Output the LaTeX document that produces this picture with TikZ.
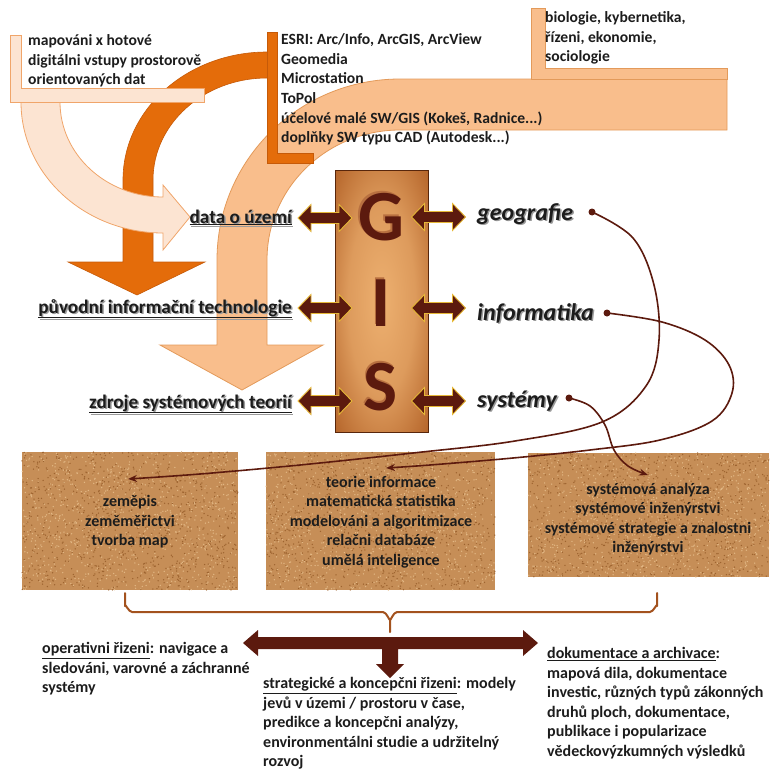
\documentclass[tikz,border=0pt]{standalone}
\usepackage{fontspec}
\setmainfont{Carlito}
\usetikzlibrary{arrows.meta}
\definecolor{paleor}{HTML}{FCE4D2}
\definecolor{paleedge}{HTML}{F0A56A}
\definecolor{darkor}{HTML}{E46C0A}
\definecolor{darkoredge}{HTML}{C65A08}
\definecolor{tanor}{HTML}{F9BE8C}
\definecolor{tanedge}{HTML}{E39A5A}
\definecolor{maroon}{HTML}{5C1A0E}
\definecolor{goldedge}{HTML}{E6B838}
\definecolor{bracketc}{HTML}{A3521E}
\definecolor{corkbase}{HTML}{C68E57}
\definecolor{corkdark}{HTML}{9E6430}
\definecolor{corklight}{HTML}{E2B784}
\definecolor{gisout}{HTML}{6E300E}
\definecolor{gismid}{HTML}{B8692E}
\definecolor{gisin}{HTML}{EDB070}
\definecolor{gishl}{HTML}{B87040}
\definecolor{txt}{HTML}{1C1C1C}
\definecolor{shadowc}{HTML}{9A9A9A}
\pgfdeclareradialshading{gisshade}{\pgfpoint{0bp}{0bp}}{color(0bp)=(gisin); color(18bp)=(gisin!70!gismid); color(34bp)=(gismid); color(50bp)=(gisout); color(75bp)=(gisout)}
\newcommand{\shadowtext}[1]{\rlap{\hspace{1.5pt}\raisebox{-1.5pt}{\color{shadowc}#1}}#1}
\newcommand{\embossed}[1]{\rlap{\hspace{-1.4pt}\raisebox{1.4pt}{\color{gishl}#1}}#1}
\newcommand{\gisdbl}[3]{%
  \draw[gisarrowpath] (#2-27,#3) coordinate (#1w) -- ++(13,-13.5) -- ++(0,8) -- ++(28,0)
    -- ++(0,-8) -- ++(13,13.5) coordinate (#1e) -- ++(-13,13.5) -- ++(0,-8) -- ++(-28,0)
    -- ++(0,8) -- cycle;}
\tikzset{
  toptext/.style={anchor=north west, align=left, inner sep=0pt, text=txt,
    font=\bfseries\fontsize{15.6}{19.6}\selectfont},
  boxtext/.style={align=center, inner sep=0pt, text=txt,
    font=\bfseries\fontsize{16}{19.5}\selectfont},
  bottext/.style={anchor=north west, align=left, inner sep=0pt, text=txt,
    font=\bfseries\fontsize{16}{19.5}\selectfont},
  midlabel/.style={anchor=base east, inner sep=0pt, text=txt,
    font=\bfseries\fontsize{19.2}{22}\selectfont},
  rightlabel/.style={anchor=base west, inner sep=0pt, text=txt,
    font=\bfseries\itshape\fontsize{24}{26}\selectfont},
  gisarrowpath/.style={draw=goldedge, line width=0.9pt, fill=maroon, line join=miter},
  gisletter/.style={inner sep=0pt, text=maroon,
    font=\bfseries\fontsize{72}{72}\selectfont},
  dot/.style={circle, fill=maroon, inner sep=0pt, minimum size=7pt},
  curve/.style={draw=maroon, line width=1.6pt, -{Stealth[length=9pt,width=7pt]}},
  corkbox/.style={fill=corkbase},
}
\begin{document}
\begin{tikzpicture}[x=1pt,y=-1pt]
\useasboundingbox (0,0) rectangle (769,771);

% ---- tan big curved arrow and its L ----
\draw[fill=tanor, draw=tanedge, line width=0.8pt]
  (727,79) -- (400,79) arc[start angle=270, end angle=180, x radius=183, y radius=181]
  -- (217,345) -- (160,345) -- (242,390) -- (323,345) -- (267,345) -- (267,260)
  arc[start angle=180, end angle=270, x radius=133, y radius=130] -- (727,130) -- cycle;
\draw[fill=tanor, draw=tanedge, line width=0.8pt]
  (531,8) -- (545,8) -- (545,68) -- (727,68) -- (727,79) -- (531,79) -- cycle;

% ---- dark orange curved arrow ----
\draw[fill=darkor, draw=darkoredge, line width=0.6pt]
  (270,52) -- (267,52) arc[start angle=270, end angle=180, x radius=144, y radius=128]
  -- (123,262) -- (68,262) -- (137,295) -- (205,262) -- (153,262) -- (153,180)
  arc[start angle=180, end angle=270, x radius=114, y radius=102] -- (270,78) -- cycle;
\draw[fill=darkor, draw=darkoredge, line width=0.6pt]
  (267,32) -- (277,32) -- (277,153) -- (313,153) -- (313,163) -- (267,163) -- cycle;

% ---- pale curved arrow and its L ----
\draw[fill=paleor, draw=paleedge, line width=0.8pt]
  (21,95) -- (21,102) arc[start angle=180, end angle=90, x radius=142, y radius=131]
  -- (163,250) -- (190,217) -- (163,185) -- (163,197)
  arc[start angle=90, end angle=180, x radius=103, y radius=95] -- (60,95);
\draw[fill=paleor, draw=paleedge, line width=0.8pt]
  (10,35) -- (21,35) -- (21,88) -- (204,88) -- (204,102) -- (10,102) -- cycle;

% ---- top texts ----
\node[toptext] (tl) at (28,34.5) {mapováni x hotové\\digitálni vstupy prostorově\\orientovaných dat};
\node[toptext] (tm) at (281,33.5) {ESRI: Arc/Info, ArcGIS, ArcView\\Geomedia\\Microstation\\ToPol\\účelové malé SW/GIS (Kokeš, Radnice...)\\doplňky SW typu CAD (Autodesk...)};
\node[toptext] (tr) at (545,11.5) {biologie, kybernetika,\\řízeni, ekonomie,\\sociologie};

% ---- GIS box ----
\path[shading=gisshade, draw=gisout!80!black, line width=0.6pt] (335,170) rectangle (428,432);
\node[gisletter] (g) at (381,216) {\embossed{G}};
\node[gisletter] (i) at (381,302) {\embossed{I}};
\node[gisletter] (s) at (381,386) {\embossed{S}};

% ---- double arrows ----
\gisdbl{la1}{325}{218}
\gisdbl{la2}{325}{308}
\gisdbl{la3}{325}{401}
\gisdbl{ra1}{438.5}{217}
\gisdbl{ra2}{438.5}{308}
\gisdbl{ra3}{438.5}{401}

% ---- middle left labels ----
\node[midlabel] (l1) at (292,223) {\shadowtext{\underline{data o území}}};
\node[midlabel] (l2) at (292,313) {\shadowtext{\underline{původní informační technologie}}};
\node[midlabel] (l3) at (292,408) {\shadowtext{\underline{zdroje systémových teorií}}};

% ---- right labels ----
\node[rightlabel] (r1) at (477,220) {\shadowtext{geografie}};
\node[rightlabel] (r2) at (477,320) {\shadowtext{informatika}};
\node[rightlabel] (r3) at (477,407) {\shadowtext{systémy}};

% ---- cork boxes ----
\fill[corkbox] (22,452) rectangle (238,590);
\fill[corkbox] (266,452) rectangle (495,590);
\fill[corkbox] (528,453) rectangle (769,577);
\pgfmathsetseed{11}
\foreach \bx/\by/\bw/\bh in {22/452/216/138, 266/452/229/138, 528/453/241/124}{
  \foreach \k in {1,...,900}{
    \pgfmathsetmacro{\rx}{\bx+rnd*\bw}
    \pgfmathsetmacro{\ry}{\by+rnd*\bh}
    \fill[corkdark] (\rx,\ry) circle (0.75);
    \pgfmathsetmacro{\qx}{\bx+rnd*\bw}
    \pgfmathsetmacro{\qy}{\by+rnd*\bh}
    \fill[corklight] (\qx,\qy) circle (0.75);
  }
}
\node[boxtext] (b1) at (130,522) {zeměpis\\zeměměřictvi\\tvorba map};
\node[boxtext] (b2) at (381,522) {teorie informace\\matematická statistika\\modelováni a algoritmizace\\relačni databáze\\umělá inteligence};
\node[boxtext] (b3) at (648,519) {systémová analýza\\systémové inženýrstvi\\systémové strategie a znalostni\\inženýrstvi};

% ---- curves ----
\node[dot] (gdot) at (592,212) {};
\node[dot] (idot) at (607,313) {};
\node[dot] (sdot) at (569,398) {};
\coordinate (geotip) at (128,479);
\coordinate (inftip) at (386,468);
\coordinate (systip) at (648,475);
\draw[curve] plot[smooth, tension=0.6] coordinates {(gdot) (633,238) (654,285) (659,340) (646,386) (602,422) (515,441) (413,453) (300,465) (200,474) (geotip)};
\draw[curve] plot[smooth, tension=0.6] coordinates {(idot) (662,322) (705,340) (729,365) (732,393) (712,421) (660,440) (590,450) (513,458) (430,465) (inftip)};
\draw[curve] plot[smooth, tension=0.6] coordinates {(sdot) (590,406) (605,425) (614,450) (628,466) (systip)};

% ---- bracket ----
\coordinate (brl) at (125,593);
\coordinate (brr) at (657,593);
\coordinate (brm) at (390,632);
\draw[bracketc, line width=2pt, line cap=round, line join=round]
  (brl) -- (125,606) to[out=90,in=180] (132,612) -- (383,612) to[out=0,in=270] (390,619) -- (brm);
\draw[bracketc, line width=2pt, line cap=round, line join=round]
  (brr) -- (657,606) to[out=90,in=0] (650,612) -- (397,612) to[out=180,in=270] (390,619);

% ---- bottom big arrow ----
\coordinate (arl) at (243,643);
\coordinate (arr) at (538,643);
\coordinate (ard) at (390,678);
\fill[maroon] (arl) -- (258,630) -- (258,637) -- (523,637) -- (523,630) -- (arr)
  -- (523,656) -- (523,649) -- (398,649) -- (398,664) -- (404,664) -- (ard)
  -- (376,664) -- (382,664) -- (382,649) -- (258,649) -- (258,656) -- cycle;

% ---- bottom texts ----
\node[bottext] (t1) at (42,642.5) {\underline{operativni řizeni}: navigace a\\sledováni, varovné a záchranné\\systémy};
\node[bottext] (t2) at (263,677.5) {\underline{strategické a koncepčni řizeni}: modely\\jevů v územi / prostoru v čase,\\predikce a koncepčni analýzy,\\environmentálni studie a udržitelný\\rozvoj};
\node[bottext] (t3) at (547,647.5) {\underline{dokumentace a archivace}:\\mapová dila, dokumentace\\investic, různých typů zákonných\\druhů ploch, dokumentace,\\publikace i popularizace\\vědeckovýzkumných výsledků};
\end{tikzpicture}
\end{document}
